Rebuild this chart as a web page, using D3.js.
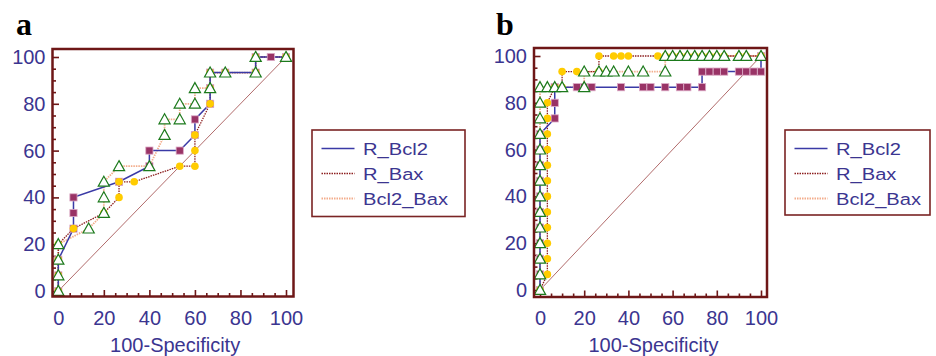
<!DOCTYPE html>
<html>
<head>
<meta charset="utf-8">
<script src="https://cdn.jsdelivr.net/npm/d3@7"></script>
<style>
  body { margin: 0; background: #fff; }
  svg { display: block; }
  text { font-family: "Liberation Sans", Arial, sans-serif; }
</style>
</head>
<body>
<svg id="chart" width="936" height="356"></svg>
<script>
// ROC curves: [100-specificity, sensitivity]
var rBcl2A = [[0,0],[0,6.67],[0,13.33],[6.67,26.67],[6.67,33.33],[6.67,40],[26.67,46.67],[40,53.33],[40,60],[53.33,60],
  [60,66.67],[60,73.33],[66.67,80],[66.67,86.67],[66.67,93.33],[73.33,93.33],[86.67,93.33],[86.67,100],[93.33,100],[100,100]];
var rBaxA = [[0,0],[0,6.67],[0,13.33],[0,20],[6.67,26.67],[20,33.33],[26.67,40],[26.67,46.67],[33.33,46.67],[53.33,53.33],
  [60,53.33],[60,60],[60,66.67],[66.67,80],[66.67,86.67],[66.67,93.33],[73.33,93.33],[86.67,93.33],[86.67,100],[100,100]];
var bcl2BaxA = [[0,0],[0,6.67],[0,13.33],[0,20],[13.33,26.67],[20,33.33],[20,40],[20,46.67],[26.67,53.33],[40,53.33],
  [46.67,66.67],[46.67,73.33],[53.33,73.33],[53.33,80],[60,80],[60,86.67],[66.67,86.67],[66.67,93.33],[73.33,93.33],
  [86.67,93.33],[86.67,100],[100,100]];

var rBcl2B = [[0,0],[0,6.67],[0,13.33],[0,20],[0,26.67],[0,33.33],[0,40],[0,46.67],[0,53.33],[0,60],[0,66.67],
  [6.67,73.33],[6.67,80],[6.67,86.67],[16.67,86.67],[20,86.67],[23.33,86.67],[36.67,86.67],[46.67,86.67],[50,86.67],
  [56.67,86.67],[63.33,86.67],[66.67,86.67],[73.33,86.67],[73.33,93.33],[76.67,93.33],[80,93.33],[83.33,93.33],
  [90,93.33],[93.33,93.33],[96.67,93.33],[100,93.33],[100,100]];
var rBaxB = [[0,0],[3.33,6.67],[3.33,13.33],[3.33,20],[3.33,26.67],[3.33,33.33],[3.33,40],[3.33,46.67],[3.33,53.33],
  [3.33,60],[3.33,66.67],[3.33,73.33],[3.33,80],[6.67,86.67],[10,86.67],[10,93.33],[16.67,93.33],[26.67,93.33],
  [26.67,100],[33.33,100],[36.67,100],[40,100],[53.33,100],[56.67,100],[60,100],[63.33,100],[66.67,100],[70,100],
  [73.33,100],[76.67,100],[80,100],[83.33,100],[90,100],[93.33,100],[100,100]];
var bcl2BaxB = [[0,0],[0,6.67],[0,13.33],[0,20],[0,26.67],[0,33.33],[0,40],[0,46.67],[0,53.33],[0,60],[0,66.67],
  [0,73.33],[0,80],[0,86.67],[3.33,86.67],[6.67,86.67],[10,86.67],[20,86.67],[20,93.33],[26.67,93.33],[30,93.33],
  [33.33,93.33],[40,93.33],[46.67,93.33],[56.67,93.33],[56.67,100],[60,100],[63.33,100],[66.67,100],[70,100],
  [73.33,100],[76.67,100],[80,100],[83.33,100],[90,100],[93.33,100],[100,100]];

var seriesNames = ["R_Bcl2", "R_Bax", "Bcl2_Bax"];
var majorTicks = [0, 20, 40, 60, 80, 100];
var minorTicks = [5, 10, 15, 25, 30, 35, 45, 50, 55, 65, 70, 75, 85, 90, 95];
var axisTitle = "100-Specificity";

var svg = d3.select("#chart");
var textColor = "#3b3590", frameColor = "#6e1717";

// line styles per series
var styles = [
  {line: "#3a3aa6", width: 1.5, dash: null},
  {line: "#8c1f1f", width: 1.3, dash: "1.5,1"},
  {line: "#f3ad8c", width: 1.8, dash: "1.5,1"}
];

var panels = [
  {letter: "a", lx: 16, xr: [58.3, 286], yr: [291, 57], frame: [52.5, 49, 293.5, 296.5],
   legend: [312, 130, 465, 216.5], data: [rBcl2A, rBaxA, bcl2BaxA]},
  {letter: "b", lx: 496, xr: [540, 761], yr: [290, 56], frame: [534, 48, 767, 297],
   legend: [785, 130, 930, 215], data: [rBcl2B, rBaxB, bcl2BaxB]}
];

panels.forEach(function(p) {
  var x = d3.scaleLinear().domain([0, 100]).range(p.xr);
  var y = d3.scaleLinear().domain([0, 100]).range(p.yr);
  var f = p.frame;
  var g = svg.append("g");

  g.append("text")
    .attr("x", p.lx).attr("y", 35)
    .style("font-family", "'Liberation Serif', 'Times New Roman', serif")
    .style("font-weight", "bold").style("font-size", "32px")
    .text(p.letter);

  // minor ticks
  g.append("g").attr("transform", "translate(" + f[0] + ",0)")
    .call(d3.axisLeft(y).tickValues(minorTicks).tickSize(-3.5).tickFormat(""))
    .call(function(a) { a.select(".domain").remove(); });
  g.append("g").attr("transform", "translate(0," + f[3] + ")")
    .call(d3.axisBottom(x).tickValues(minorTicks).tickSize(-3.5).tickFormat(""))
    .call(function(a) { a.select(".domain").remove(); });

  // major ticks + labels
  var ya = g.append("g").attr("transform", "translate(" + f[0] + ",0)")
    .call(d3.axisLeft(y).tickValues(majorTicks).tickSize(-6.5).tickPadding(7));
  var xa = g.append("g").attr("transform", "translate(0," + f[3] + ")")
    .call(d3.axisBottom(x).tickValues(majorTicks).tickSize(-6.5).tickPadding(14));
  [ya, xa].forEach(function(a) {
    a.select(".domain").remove();
    a.selectAll("text").style("font-size", "20px").attr("fill", textColor)
      .style("font-family", "'Liberation Sans', Arial, sans-serif");
  });
  g.selectAll(".tick line").attr("stroke", frameColor).attr("stroke-width", 1.6);

  g.append("text")
    .attr("x", (p.xr[0] + p.xr[1]) / 2 + 3).attr("y", 352)
    .attr("text-anchor", "middle").attr("fill", textColor)
    .style("font-size", "20px").text(axisTitle);

  // reference diagonal
  g.append("line")
    .attr("x1", x(0)).attr("y1", y(0)).attr("x2", x(100)).attr("y2", y(100))
    .attr("stroke", "#a85a5a").attr("stroke-width", 0.9);

  var line = d3.line().x(function(d) { return x(d[0]); }).y(function(d) { return y(d[1]); });

  [2, 1, 0].forEach(function(i) {
    g.append("path").datum(p.data[i])
      .attr("d", line).attr("fill", "none")
      .attr("stroke", styles[i].line).attr("stroke-width", styles[i].width)
      .attr("stroke-dasharray", styles[i].dash);
  });

  // markers: squares, circles, triangles
  g.selectAll(".sq").data(p.data[0]).join("rect").attr("class", "sq")
    .attr("x", function(d) { return x(d[0]) - 3.6; })
    .attr("y", function(d) { return y(d[1]) - 3.6; })
    .attr("width", 7.2).attr("height", 7.2)
    .attr("fill", "#993366").attr("stroke", "#dcaac6").attr("stroke-width", 0.8);

  g.selectAll(".ci").data(p.data[1]).join("circle").attr("class", "ci")
    .attr("cx", function(d) { return x(d[0]); })
    .attr("cy", function(d) { return y(d[1]); })
    .attr("r", 3.8).attr("fill", "#ffcc00");

  g.selectAll(".tr").data(p.data[2]).join("path").attr("class", "tr")
    .attr("transform", function(d) { return "translate(" + x(d[0]) + "," + y(d[1]) + ")"; })
    .attr("d", "M0,-5.6L5.6,4.4L-5.6,4.4Z")
    .attr("fill", "#fff").attr("stroke", "#1c7a1c").attr("stroke-width", 1.2);

  // frame
  g.append("rect")
    .attr("x", f[0]).attr("y", f[1]).attr("width", f[2] - f[0]).attr("height", f[3] - f[1])
    .attr("fill", "none").attr("stroke", frameColor).attr("stroke-width", 2.5);

  // legend
  var L = p.legend;
  var lg = g.append("g").attr("transform", "translate(" + L[0] + "," + L[1] + ")");
  lg.append("rect").attr("width", L[2] - L[0]).attr("height", L[3] - L[1])
    .attr("fill", "#fff").attr("stroke", "#7a2424").attr("stroke-width", 1.6);
  seriesNames.forEach(function(name, i) {
    var ry = 18.5 + i * 25;
    lg.append("line").attr("x1", 9.5).attr("x2", 42.5).attr("y1", ry).attr("y2", ry)
      .attr("stroke", styles[i].line).attr("stroke-width", styles[i].width)
      .attr("stroke-dasharray", styles[i].dash);
    lg.append("text")
      .attr("transform", "translate(51," + (ry + 6.5) + ") scale(1.22,1)")
      .attr("fill", textColor).style("font-size", "16.5px").text(name);
  });
});
</script>
</body>
</html>
